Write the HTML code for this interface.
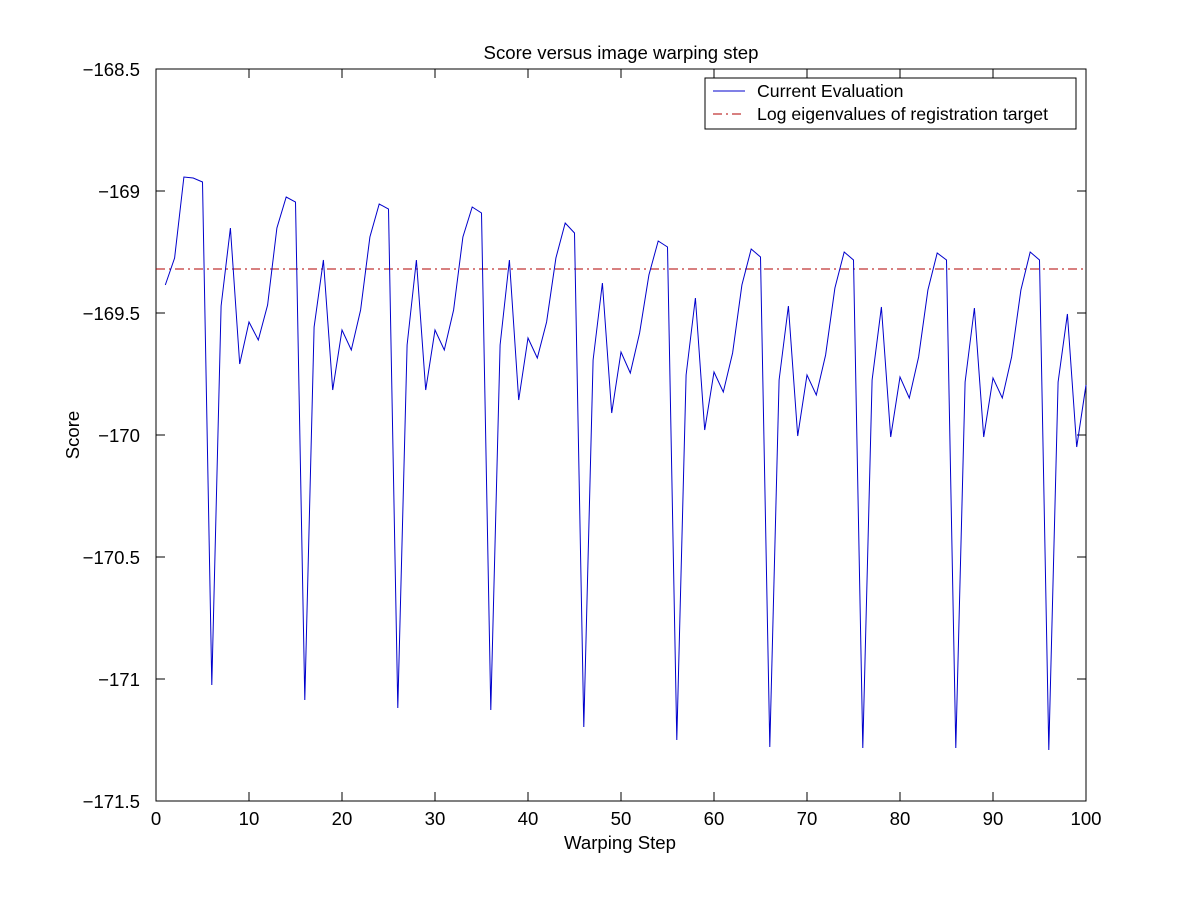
<!DOCTYPE html>
<html><head><meta charset="utf-8"><style>
body{margin:0;background:#fff;}
svg text{font-family:"Liberation Sans",sans-serif;font-size:18.6px;fill:#000;}
svg text.lg{font-size:17.7px;}
</style></head><body>
<svg width="1200" height="900" viewBox="0 0 1200 900" xmlns="http://www.w3.org/2000/svg">
<rect width="1200" height="900" fill="#fff"/>
<rect x="156" y="69" width="930" height="732" fill="none" stroke="#000" stroke-width="1"/>
<g stroke="#000" stroke-width="1">
<path d="M156 801v-9M249 801v-9M342 801v-9M435 801v-9M528 801v-9M621 801v-9M714 801v-9M807 801v-9M900 801v-9M993 801v-9M1086 801v-9"/>
<path d="M156 69v9M249 69v9M342 69v9M435 69v9M528 69v9M621 69v9M714 69v9M807 69v9M900 69v9M993 69v9M1086 69v9"/>
<path d="M156 69h9M156 191h9M156 313h9M156 435h9M156 557h9M156 679h9M156 801h9"/>
<path d="M1086 69h-9M1086 191h-9M1086 313h-9M1086 435h-9M1086 557h-9M1086 679h-9M1086 801h-9"/>
</g>
<g text-anchor="middle">
<text x="156" y="825">0</text><text x="249" y="825">10</text><text x="342" y="825">20</text><text x="435" y="825">30</text><text x="528" y="825">40</text><text x="621" y="825">50</text><text x="714" y="825">60</text><text x="807" y="825">70</text><text x="900" y="825">80</text><text x="993" y="825">90</text><text x="1086" y="825">100</text>
</g>
<g text-anchor="end">
<text x="140" y="76">−168.5</text><text x="140" y="198">−169</text><text x="140" y="320">−169.5</text><text x="140" y="442">−170</text><text x="140" y="564">−170.5</text><text x="140" y="686">−171</text><text x="140" y="808">−171.5</text>
</g>
<text x="621" y="59" text-anchor="middle">Score versus image warping step</text>
<text x="620" y="849" text-anchor="middle">Warping Step</text>
<text x="79" y="435" text-anchor="middle" transform="rotate(-90 79 435)">Score</text>
<line x1="156" y1="269" x2="1086" y2="269" stroke="#b00000" stroke-width="1" stroke-dasharray="9,4,2,4"/>
<polyline fill="none" stroke="#0000cc" stroke-width="1" vector-effect="non-scaling-stroke" transform="translate(156,0) scale(9.3,1)" points="1,285 2,258 3,177 4,178 5,182 6,685 7,306 8,228 9,364 10,322 11,340 12,305 13,228 14,197 15,202 16,700 17,327 18,260 19,390 20,330 21,350 22,310 23,237 24,204 25,209 26,708 27,345 28,260 29,390 30,330 31,350 32,310 33,237 34,207 35,213 36,710 37,345 38,260 39,400 40,338 41,358 42,322 43,258 44,223 45,233 46,727 47,360 48,283 49,413 50,352 51,373 52,333 53,275 54,241 55,247 56,740 57,375 58,298 59,430 60,372 61,392 62,353 63,285 64,249 65,257 66,747 67,380 68,306 69,436 70,375 71,395 72,355 73,288 74,252 75,260 76,748 77,380 78,307 79,437 80,377 81,398 82,357 83,290 84,253 85,260 86,748 87,382 88,308 89,437 90,378 91,398 92,357 93,290 94,252 95,260 96,750 97,382 98,314 99,447 100,385"/>
<rect x="705" y="78" width="371" height="51" fill="#fff" stroke="#000" stroke-width="1"/>
<line x1="713" y1="91" x2="745" y2="91" stroke="#0000cc"/>
<line x1="713" y1="114" x2="745" y2="114" stroke="#b00000" stroke-dasharray="9,4,2,4"/>
<text class="lg" x="757" y="97">Current Evaluation</text>
<text class="lg" x="757" y="120">Log eigenvalues of registration target</text>
</svg>
</body></html>
